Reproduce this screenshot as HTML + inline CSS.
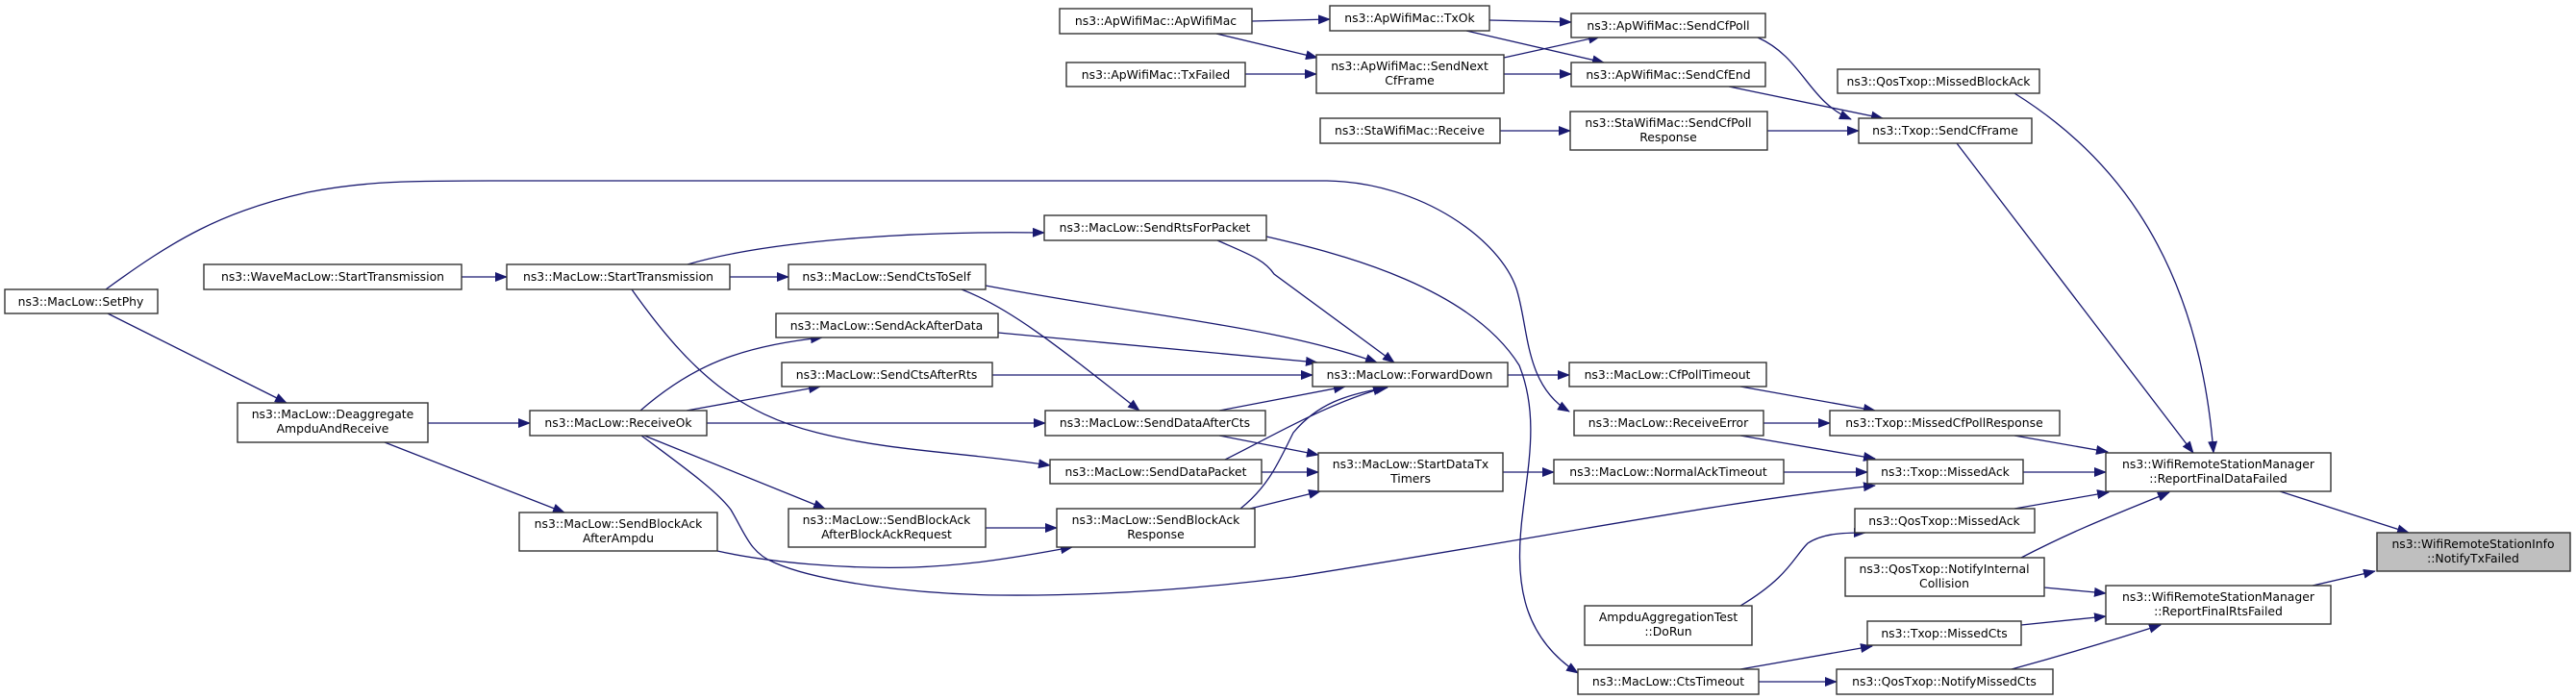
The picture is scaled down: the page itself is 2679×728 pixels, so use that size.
<!DOCTYPE html>
<html><head><meta charset="utf-8"><style>
html,body{margin:0;padding:0;background:#fff;}
svg{display:block;}
text{font-family:"DejaVu Sans","Liberation Sans",sans-serif;font-size:12.4px;fill:#000;text-anchor:middle;}
.b{fill:#fff;stroke:#333;stroke-width:1.4;}
.g{fill:#bfbfbf;stroke:#333;stroke-width:1.4;}
.e{fill:none;stroke:#191970;stroke-width:1.3;marker-end:url(#a);}
</style></head><body>
<svg width="2679" height="728" viewBox="0 0 2679 728" xmlns="http://www.w3.org/2000/svg">
<defs><marker id="a" markerWidth="13" markerHeight="10" refX="12" refY="5" orient="auto" markerUnits="userSpaceOnUse"><path d="M0,0 L13,5 L0,10 z" fill="#191970"/></marker></defs>

<!-- edges -->
<path class="e" d="M1302,22 L1383,20"/>
<path class="e" d="M1265,35 L1370,60"/>
<path class="e" d="M1549,21 L1634,23"/>
<path class="e" d="M1525,32 L1668,65"/>
<path class="e" d="M1564,60 L1664,38"/>
<path class="e" d="M1564,77 L1634,77"/>
<path class="e" d="M1295,77 L1369,77"/>
<path class="e" d="M1828,39 C1875,60 1880,105 1925,124"/>
<path class="e" d="M1798,90 L1958,123"/>
<path class="e" d="M1560,136 L1633,136"/>
<path class="e" d="M1838,136 L1933,136"/>
<path class="e" d="M2035,149 L2281,471"/>
<path class="e" d="M2095,97 C2180,150 2285,250 2302,471"/>
<path class="e" d="M110,301 C180,250 230,220 320,200 C380,188 430,188 520,188 L1380,188 C1480,190 1560,250 1577,300 C1590,340 1585,400 1632,428"/>
<path class="e" d="M112,326 L298,419"/>
<path class="e" d="M480,288 L527,288"/>
<path class="e" d="M715,275 C800,250 950,240 1086,242"/>
<path class="e" d="M759,288 L820,288"/>
<path class="e" d="M657,301 C720,390 770,430 850,450 C930,470 1000,470 1092,484"/>
<path class="e" d="M1266,250 C1300,265 1315,270 1325,285 L1450,377"/>
<path class="e" d="M1317,246 C1400,265 1530,300 1580,380 C1600,430 1590,480 1584,530 C1575,600 1580,660 1641,700"/>
<path class="e" d="M1025,297 C1200,330 1330,340 1432,377"/>
<path class="e" d="M1000,301 C1050,320 1100,360 1185,427"/>
<path class="e" d="M1038,346 L1370,377"/>
<path class="e" d="M1032,390 L1365,390"/>
<path class="e" d="M445,440 L551,440"/>
<path class="e" d="M400,460 L587,533"/>
<path class="e" d="M666,427 C720,380 770,360 855,351"/>
<path class="e" d="M714,427 L853,402"/>
<path class="e" d="M735,440 L1087,440"/>
<path class="e" d="M670,453 L858,529"/>
<path class="e" d="M667,453 C710,485 745,510 760,530 C775,555 780,575 805,585 C850,605 950,618 1040,619 C1150,620 1250,612 1344,600 C1600,560 1800,520 1950,505"/>
<path class="e" d="M746,573 C800,585 880,592 950,590 C1000,588 1040,583 1115,569"/>
<path class="e" d="M1025,549 L1099,549"/>
<path class="e" d="M1268,427 L1399,402"/>
<path class="e" d="M1268,453 L1371,473"/>
<path class="e" d="M1274,478 C1330,450 1380,420 1440,403"/>
<path class="e" d="M1312,491 L1371,491"/>
<path class="e" d="M1290,529 C1320,505 1330,480 1345,450 C1370,420 1400,410 1443,403"/>
<path class="e" d="M1300,529 L1373,511"/>
<path class="e" d="M1568,390 L1632,390"/>
<path class="e" d="M1563,491 L1616,491"/>
<path class="e" d="M1810,402 L1950,427"/>
<path class="e" d="M1834,440 L1903,440"/>
<path class="e" d="M1810,453 L1950,477"/>
<path class="e" d="M1855,491 L1942,491"/>
<path class="e" d="M2095,453 L2192,470"/>
<path class="e" d="M2104,491 L2190,491"/>
<path class="e" d="M2095,529 L2193,512"/>
<path class="e" d="M2102,580 C2160,550 2200,535 2256,512"/>
<path class="e" d="M2126,611 L2190,617"/>
<path class="e" d="M1810,630 C1860,600 1865,580 1880,565 C1895,555 1915,554 1940,554"/>
<path class="e" d="M2102,650 L2190,641"/>
<path class="e" d="M2092,696 C2150,680 2200,665 2247,650"/>
<path class="e" d="M1810,696 L1947,672"/>
<path class="e" d="M1829,709 L1910,709"/>
<path class="e" d="M2371,511 L2505,554"/>
<path class="e" d="M2405,609 L2470,594"/>

<!-- nodes -->
<rect class="b" x="1102" y="9" width="200" height="26"/><text x="1202" y="26">ns3::ApWifiMac::ApWifiMac</text>
<rect class="b" x="1383" y="6" width="166" height="26"/><text x="1466" y="23">ns3::ApWifiMac::TxOk</text>
<rect class="b" x="1634" y="14" width="202" height="25"/><text x="1735" y="31">ns3::ApWifiMac::SendCfPoll</text>
<rect class="b" x="1109" y="65" width="186" height="25"/><text x="1202" y="82">ns3::ApWifiMac::TxFailed</text>
<rect class="b" x="1369" y="57" width="195" height="40"/><text x="1466" y="73">ns3::ApWifiMac::SendNext</text><text x="1466" y="88">CfFrame</text>
<rect class="b" x="1634" y="65" width="202" height="25"/><text x="1735" y="82">ns3::ApWifiMac::SendCfEnd</text>
<rect class="b" x="1373" y="123" width="187" height="26"/><text x="1466" y="140">ns3::StaWifiMac::Receive</text>
<rect class="b" x="1633" y="116" width="205" height="40"/><text x="1735" y="132">ns3::StaWifiMac::SendCfPoll</text><text x="1735" y="147">Response</text>
<rect class="b" x="1933" y="123" width="180" height="26"/><text x="2023" y="140">ns3::Txop::SendCfFrame</text>
<rect class="b" x="1911" y="72" width="210" height="25"/><text x="2016" y="89">ns3::QosTxop::MissedBlockAck</text>
<rect class="b" x="5" y="301" width="159" height="25"/><text x="84" y="318">ns3::MacLow::SetPhy</text>
<rect class="b" x="212" y="275" width="268" height="26"/><text x="346" y="292">ns3::WaveMacLow::StartTransmission</text>
<rect class="b" x="527" y="275" width="232" height="26"/><text x="643" y="292">ns3::MacLow::StartTransmission</text>
<rect class="b" x="820" y="275" width="205" height="26"/><text x="922" y="292">ns3::MacLow::SendCtsToSelf</text>
<rect class="b" x="807" y="326" width="231" height="25"/><text x="922" y="343">ns3::MacLow::SendAckAfterData</text>
<rect class="b" x="813" y="377" width="219" height="25"/><text x="922" y="394">ns3::MacLow::SendCtsAfterRts</text>
<rect class="b" x="247" y="419" width="198" height="41"/><text x="346" y="435">ns3::MacLow::Deaggregate</text><text x="346" y="450">AmpduAndReceive</text>
<rect class="b" x="551" y="427" width="184" height="26"/><text x="643" y="444">ns3::MacLow::ReceiveOk</text>
<rect class="b" x="540" y="533" width="206" height="40"/><text x="643" y="549">ns3::MacLow::SendBlockAck</text><text x="643" y="564">AfterAmpdu</text>
<rect class="b" x="820" y="529" width="205" height="40"/><text x="922" y="545">ns3::MacLow::SendBlockAck</text><text x="922" y="560">AfterBlockAckRequest</text>
<rect class="b" x="1086" y="224" width="231" height="26"/><text x="1201" y="241">ns3::MacLow::SendRtsForPacket</text>
<rect class="b" x="1365" y="377" width="203" height="25"/><text x="1466" y="394">ns3::MacLow::ForwardDown</text>
<rect class="b" x="1632" y="377" width="205" height="25"/><text x="1734" y="394">ns3::MacLow::CfPollTimeout</text>
<rect class="b" x="1087" y="427" width="229" height="26"/><text x="1201" y="444">ns3::MacLow::SendDataAfterCts</text>
<rect class="b" x="1637" y="427" width="197" height="26"/><text x="1735" y="444">ns3::MacLow::ReceiveError</text>
<rect class="b" x="1371" y="471" width="192" height="40"/><text x="1467" y="487">ns3::MacLow::StartDataTx</text><text x="1467" y="502">Timers</text>
<rect class="b" x="1616" y="478" width="239" height="25"/><text x="1735" y="495">ns3::MacLow::NormalAckTimeout</text>
<rect class="b" x="1092" y="478" width="220" height="25"/><text x="1202" y="495">ns3::MacLow::SendDataPacket</text>
<rect class="b" x="1099" y="529" width="206" height="40"/><text x="1202" y="545">ns3::MacLow::SendBlockAck</text><text x="1202" y="560">Response</text>
<rect class="b" x="1903" y="427" width="239" height="26"/><text x="2022" y="444">ns3::Txop::MissedCfPollResponse</text>
<rect class="b" x="1942" y="478" width="162" height="25"/><text x="2023" y="495">ns3::Txop::MissedAck</text>
<rect class="b" x="2190" y="471" width="234" height="40"/><text x="2307" y="487">ns3::WifiRemoteStationManager</text><text x="2307" y="502">::ReportFinalDataFailed</text>
<rect class="g" x="2472" y="554" width="201" height="40"/><text x="2572" y="570">ns3::WifiRemoteStationInfo</text><text x="2572" y="585">::NotifyTxFailed</text>
<rect class="b" x="1929" y="529" width="187" height="25"/><text x="2022" y="546">ns3::QosTxop::MissedAck</text>
<rect class="b" x="1919" y="580" width="207" height="40"/><text x="2022" y="596">ns3::QosTxop::NotifyInternal</text><text x="2022" y="611">Collision</text>
<rect class="b" x="2190" y="609" width="234" height="40"/><text x="2307" y="625">ns3::WifiRemoteStationManager</text><text x="2307" y="640">::ReportFinalRtsFailed</text>
<rect class="b" x="1648" y="630" width="174" height="41"/><text x="1735" y="646">AmpduAggregationTest</text><text x="1735" y="661">::DoRun</text>
<rect class="b" x="1942" y="646" width="160" height="25"/><text x="2022" y="663">ns3::Txop::MissedCts</text>
<rect class="b" x="1641" y="696" width="188" height="26"/><text x="1735" y="713">ns3::MacLow::CtsTimeout</text>
<rect class="b" x="1910" y="696" width="225" height="26"/><text x="2022" y="713">ns3::QosTxop::NotifyMissedCts</text>
</svg>
</body></html>
